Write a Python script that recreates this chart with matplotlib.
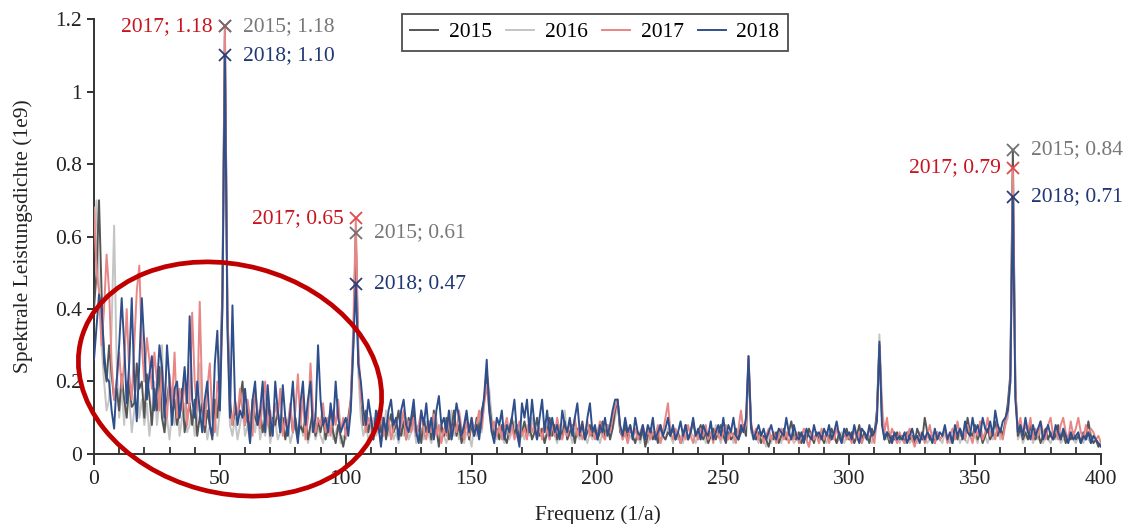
import numpy as np
import matplotlib
matplotlib.use("Agg")
import matplotlib.pyplot as plt
from matplotlib.patches import Ellipse
from matplotlib.ticker import MultipleLocator, FuncFormatter

plt.rcParams['font.family'] = ['Liberation Serif', 'DejaVu Serif']

years = ["2015", "2016", "2017", "2018"]

# Spektrale Leistungsdichte (1e9), eine Zahl pro Frequenz 0..400 (1/a)
psd_2015 = [
    .40, .50, .70, .45, .25, .20, .30, .22, .15, .18, .12, .22, .15, .10, .20, .13, .14, .25, .18, .20,
    .10, .22, .16, .08, .18, .12, .24, .10, .06, .15, .20, .10, .15, .08, .12, .18, .06, .10, .14, .08,
    .15, .05, .10, .14, .06, .12, .08, .04, .15, .10, .20, .45, 1.18, .40, .15, .08, .12, .10, .15, .20,
    .08, .12, .06, .15, .10, .08, .12, .06, .10, .14, .05, .10, .08, .12, .06, .10, .04, .08, .12, .06,
    .10, .05, .08, .06, .10, .04, .08, .12, .05, .09, .06, .10, .04, .08, .12, .06, .03, .08, .05, .02,
    .06, .10, .15, .30, .61, .25, .18, .08, .12, .06, .10, .05, .08, .12, .06, .10, .04, .08, .11, .06,
    .08, .12, .05, .09, .04, .10, .07, .12, .05, .08, .03, .10, .06, .09, .04, .12, .07, .02, .08, .05,
    .10, .04, .07, .12, .05, .08, .03, .06, .10, .04, .08, .05, .10, .06, .12, .15, .23, .14, .08, .05,
    .07, .04, .08, .05, .03, .07, .10, .05, .08, .04, .06, .09, .05, .08, .04, .06, .10, .05, .07, .03,
    .06, .10, .05, .08, .04, .07, .05, .09, .04, .06, .08, .03, .07, .05, .09, .04, .06, .08, .05, .07,
    .04, .06, .09, .05, .08, .04, .07, .12, .15, .06, .05, .08, .04, .07, .05, .03, .06, .04, .07, .02,
    .05, .07, .04, .06, .03, .08, .05, .04, .06, .05, .07, .04, .06, .03, .05, .08, .04, .06, .09, .05,
    .06, .08, .04, .06, .03, .05, .07, .04, .06, .08, .05, .03, .06, .04, .05, .07, .04, .06, .08, .05,
    .26, .07, .05, .04, .06, .03, .05, .04, .02, .05, .04, .06, .03, .05, .07, .04, .06, .09, .05, .04,
    .06, .03, .05, .04, .07, .05, .03, .06, .04, .05, .03, .06, .04, .07, .05, .03, .06, .04, .05, .07,
    .04, .06, .03, .05, .08, .04, .06, .05, .03, .07, .05, .12, .30, .10, .04, .06, .03, .05, .04, .06,
    .04, .05, .03, .06, .04, .05, .03, .07, .05, .04, .10, .06, .04, .05, .03, .06, .04, .05, .07, .04,
    .05, .03, .06, .04, .07, .05, .04, .10, .06, .05, .08, .04, .06, .03, .05, .07, .04, .06, .09, .05,
    .07, .05, .09, .14, .22, .84, .18, .05, .07, .04, .06, .04, .08, .05, .04, .06, .03, .05, .07, .04,
    .06, .04, .05, .08, .04, .06, .03, .05, .04, .06, .04, .05, .03, .06, .04, .09, .05, .03, .04, .02,
    .03,
]
psd_2016 = [
    .55, .70, .45, .30, .20, .12, .15, .35, .63, .25, .10, .18, .08, .20, .15, .06, .12, .22, .10, .15,
    .08, .14, .05, .12, .20, .08, .15, .30, .06, .10, .04, .12, .08, .15, .05, .10, .14, .06, .08, .12,
    .05, .10, .25, .06, .12, .04, .08, .15, .10, .05, .12, .40, 1.15, .35, .08, .05, .10, .04, .08, .12,
    .05, .08, .03, .10, .06, .12, .04, .08, .05, .10, .03, .07, .09, .04, .06, .10, .05, .08, .03, .06,
    .08, .04, .10, .05, .07, .03, .06, .09, .04, .07, .05, .03, .08, .05, .10, .04, .06, .08, .03, .05,
    .04, .08, .12, .28, .60, .22, .10, .05, .08, .04, .06, .10, .05, .07, .03, .06, .12, .05, .08, .04,
    .06, .03, .07, .05, .10, .04, .06, .08, .03, .05, .07, .04, .09, .05, .03, .06, .10, .04, .07, .05,
    .03, .06, .12, .05, .08, .04, .07, .03, .06, .05, .02, .08, .05, .10, .06, .14, .22, .18, .10, .06,
    .04, .08, .05, .03, .07, .04, .06, .09, .05, .03, .06, .04, .08, .05, .10, .06, .04, .07, .05, .03,
    .06, .04, .07, .05, .03, .08, .05, .12, .04, .06, .03, .07, .05, .04, .08, .05, .03, .06, .04, .07,
    .05, .03, .06, .04, .08, .05, .07, .10, .14, .07, .04, .06, .03, .05, .04, .07, .05, .03, .06, .04,
    .03, .05, .08, .04, .06, .03, .05, .04, .07, .05, .03, .06, .04, .05, .03, .07, .04, .06, .05, .03,
    .05, .04, .07, .03, .05, .06, .04, .08, .05, .03, .06, .04, .05, .07, .03, .05, .04, .06, .08, .05,
    .27, .06, .04, .05, .03, .06, .04, .02, .05, .03, .06, .04, .05, .03, .06, .04, .07, .05, .03, .04,
    .05, .03, .06, .04, .02, .05, .04, .06, .03, .05, .04, .03, .06, .04, .05, .03, .04, .06, .03, .05,
    .04, .06, .03, .05, .04, .03, .06, .04, .05, .03, .05, .12, .33, .15, .05, .04, .06, .03, .05, .04,
    .03, .05, .04, .06, .03, .04, .05, .03, .06, .04, .05, .03, .04, .06, .03, .05, .04, .03, .06, .04,
    .03, .05, .04, .06, .03, .05, .04, .03, .06, .04, .05, .03, .07, .04, .05, .03, .06, .04, .05, .07,
    .04, .06, .08, .10, .20, .80, .16, .04, .06, .03, .05, .04, .06, .03, .05, .04, .07, .03, .05, .04,
    .03, .05, .04, .06, .03, .04, .05, .03, .06, .04, .03, .05, .04, .03, .05, .04, .03, .05, .04, .02,
    .03,
]
psd_2017 = [
    .68, .50, .45, .30, .40, .55, .45, .25, .15, .20, .28, .18, .25, .40, .22, .15, .30, .45, .52, .30,
    .20, .32, .26, .18, .28, .20, .12, .24, .16, .10, .22, .14, .28, .10, .18, .12, .22, .08, .15, .39,
    .20, .12, .42, .15, .08, .18, .25, .10, .06, .20, .15, .42, 1.18, .40, .12, .08, .15, .10, .18, .12,
    .08, .15, .10, .05, .18, .12, .07, .15, .20, .08, .12, .06, .14, .10, .18, .05, .10, .08, .14, .06,
    .12, .22, .08, .16, .04, .10, .25, .12, .06, .10, .08, .14, .06, .10, .05, .12, .08, .15, .06, .10,
    .05, .08, .15, .35, .65, .30, .15, .12, .06, .10, .08, .04, .10, .06, .12, .05, .08, .10, .04, .07,
    .10, .05, .08, .12, .04, .09, .06, .10, .05, .08, .12, .06, .04, .09, .06, .11, .05, .08, .03, .07,
    .05, .10, .04, .08, .06, .12, .07, .04, .09, .05, .10, .06, .08, .12, .07, .14, .19, .12, .06, .09,
    .05, .08, .04, .07, .10, .05, .08, .04, .06, .09, .05, .07, .04, .10, .06, .08, .05, .07, .04, .09,
    .06, .04, .08, .05, .10, .06, .04, .07, .05, .09, .06, .10, .05, .08, .04, .06, .09, .05, .07, .04,
    .06, .09, .05, .04, .08, .06, .10, .13, .15, .07, .04, .06, .03, .08, .05, .07, .04, .06, .08, .05,
    .07, .04, .06, .05, .08, .03, .06, .10, .14, .06, .04, .07, .05, .03, .06, .04, .08, .05, .03, .06,
    .04, .07, .05, .08, .04, .06, .03, .07, .05, .04, .06, .08, .04, .06, .05, .03, .07, .12, .06, .08,
    .27, .09, .05, .07, .04, .06, .03, .05, .07, .04, .06, .03, .05, .07, .04, .06, .03, .05, .04, .06,
    .03, .05, .07, .04, .02, .06, .04, .05, .03, .07, .04, .06, .03, .05, .04, .07, .05, .03, .06, .04,
    .05, .03, .07, .04, .06, .03, .05, .04, .07, .05, .03, .10, .30, .12, .06, .10, .04, .07, .05, .03,
    .06, .04, .03, .05, .07, .04, .02, .05, .04, .06, .03, .05, .08, .04, .03, .06, .04, .05, .07, .03,
    .05, .07, .04, .09, .05, .06, .04, .08, .05, .03, .07, .05, .09, .04, .06, .10, .05, .07, .04, .08,
    .06, .04, .08, .12, .20, .79, .18, .06, .10, .05, .08, .06, .10, .04, .07, .05, .09, .06, .04, .08,
    .10, .05, .07, .04, .08, .10, .06, .04, .09, .05, .07, .10, .06, .04, .08, .05, .07, .06, .04, .05,
    .03,
]
psd_2018 = [
    .26, .35, .44, .40, .28, .21, .20, .12, .07, .20, .30, .43, .30, .14, .25, .43, .20, .09, .25, .43,
    .30, .15, .22, .27, .12, .18, .30, .24, .10, .30, .20, .08, .18, .20, .10, .16, .24, .14, .38, .15,
    .10, .20, .12, .06, .15, .20, .08, .05, .25, .34, .12, .40, 1.10, .35, .10, .41, .15, .08, .12, .10,
    .18, .10, .03, .15, .20, .08, .12, .20, .06, .19, .10, .05, .20, .12, .06, .19, .10, .05, .12, .20,
    .08, .03, .14, .20, .08, .15, .20, .06, .10, .30, .15, .08, .10, .06, .14, .08, .20, .10, .06, .08,
    .10, .05, .12, .30, .47, .25, .20, .12, .08, .15, .10, .04, .12, .08, .02, .10, .06, .12, .15, .08,
    .10, .04, .12, .15, .08, .06, .10, .15, .06, .03, .12, .08, .14, .06, .10, .04, .12, .16, .08, .10,
    .06, .12, .04, .08, .14, .10, .05, .08, .12, .06, .10, .05, .08, .04, .10, .16, .26, .12, .06, .03,
    .10, .08, .12, .04, .08, .06, .10, .15, .06, .02, .14, .10, .15, .06, .15, .08, .04, .10, .15, .06,
    .12, .05, .10, .06, .08, .04, .12, .08, .06, .10, .05, .10, .14, .06, .08, .04, .10, .14, .06, .08,
    .04, .08, .06, .10, .05, .08, .12, .15, .15, .08, .05, .10, .06, .08, .04, .10, .06, .05, .08, .04,
    .08, .06, .10, .04, .06, .08, .05, .07, .10, .05, .08, .04, .06, .09, .05, .08, .04, .06, .10, .05,
    .07, .04, .08, .06, .05, .09, .04, .06, .08, .05, .10, .04, .08, .06, .10, .05, .04, .08, .06, .10,
    .27, .08, .04, .06, .08, .05, .07, .04, .06, .08, .05, .04, .07, .06, .05, .10, .06, .04, .08, .05,
    .04, .06, .03, .07, .05, .04, .08, .05, .06, .04, .07, .05, .08, .04, .06, .09, .05, .03, .07, .05,
    .06, .04, .08, .05, .03, .07, .06, .04, .08, .05, .06, .09, .31, .08, .04, .06, .05, .03, .06, .04,
    .05, .04, .06, .03, .05, .07, .04, .05, .03, .06, .04, .06, .05, .03, .07, .04, .06, .05, .08, .04,
    .06, .03, .08, .05, .07, .04, .09, .06, .05, .10, .06, .08, .05, .10, .07, .06, .09, .05, .12, .08,
    .06, .09, .10, .12, .20, .71, .15, .06, .08, .05, .10, .06, .04, .08, .05, .07, .09, .04, .06, .08,
    .05, .04, .08, .06, .04, .07, .05, .03, .06, .04, .05, .06, .03, .05, .04, .06, .03, .05, .04, .03,
    .02,
]
series = {"2015": psd_2015, "2016": psd_2016, "2017": psd_2017, "2018": psd_2018}

# beschriftete Peaks: (Jahr, Frequenz, Seite)
peak_labels = [
    ("2017", 52, "left"), ("2015", 52, "right"), ("2018", 52, "right"),
    ("2017", 104, "left"), ("2015", 104, "right"), ("2018", 104, "right"),
    ("2015", 365, "right"), ("2017", 365, "left"), ("2018", 365, "right"),
]

line_colors = {"2015": "#555555", "2016": "#c4c4c4", "2017": "#e88585", "2018": "#2f4f8c"}
text_colors = {"2015": "#777777", "2017": "#c8141e", "2018": "#1f3774"}
marker_colors = {"2015": "#707070", "2017": "#e04a4a", "2018": "#2a3f7a"}
zorders = {"2015": 3, "2016": 2, "2017": 4, "2018": 5}

fig = plt.figure(figsize=(11.27, 5.24), dpi=100)
ax = fig.add_axes([0.0834, 0.1336, 0.8935, 0.8301])

for y in years:
    vals = np.array(series[y])
    freq = np.arange(len(vals))
    ax.plot(freq, vals, color=line_colors[y], lw=1.4, label=y, zorder=zorders[y])

for y, f, side in peak_labels:
    v = series[y][f]
    ax.plot(f, v, marker="x", ms=9, mew=1.3, color=marker_colors[y], zorder=6, clip_on=False)
    dx = -12 if side == "left" else 18
    ax.annotate(f"{y}; {v:.2f}", (f, v), xytext=(dx, 0), textcoords="offset pixels",
                ha="right" if side == "left" else "left", va="center",
                color=text_colors[y], fontsize=15.5, zorder=7)

ax.set_xlim(0, 400)
ax.set_ylim(0, 1.2)
ax.xaxis.set_major_locator(MultipleLocator(50))
ax.xaxis.set_minor_locator(MultipleLocator(10))
ax.yaxis.set_major_locator(MultipleLocator(0.2))
ax.yaxis.set_major_formatter(FuncFormatter(lambda v, p: f"{v:g}"))
ax.tick_params(axis="x", which="major", direction="out", length=8, width=1.3, labelsize=15.5, colors="#222222")
ax.tick_params(axis="x", which="minor", direction="in", length=5, width=1.2, colors="#222222")
ax.tick_params(axis="y", which="major", direction="out", length=5, width=1.3, labelsize=15.5, colors="#222222")
for s in ["top", "right"]:
    ax.spines[s].set_visible(False)
for s in ["left", "bottom"]:
    ax.spines[s].set_linewidth(1.4)
    ax.spines[s].set_color("#333333")

ax.set_xlabel("Frequenz (1/a)", fontsize=15.5, color="#222222", labelpad=12)
ax.set_ylabel("Spektrale Leistungsdichte (1e9)", fontsize=15.5, color="#222222", labelpad=16)

leg = ax.legend(loc="upper center", bbox_to_anchor=(0.4975, 1.012), ncol=4, frameon=True,
                fancybox=False, edgecolor="#222222", fontsize=15.5, handlelength=1.3,
                handletextpad=0.5, columnspacing=0.65, borderpad=0.4, borderaxespad=0)
leg.get_frame().set_linewidth(1.3)

# roter Kreis um den niederfrequenten Bereich
ell = Ellipse((2.30, 1.45), 3.08, 2.28, angle=-15, transform=fig.dpi_scale_trans,
              fill=False, edgecolor="#c00000", lw=3.4, zorder=10)
fig.add_artist(ell)

fig.savefig("out.png", dpi=100)
